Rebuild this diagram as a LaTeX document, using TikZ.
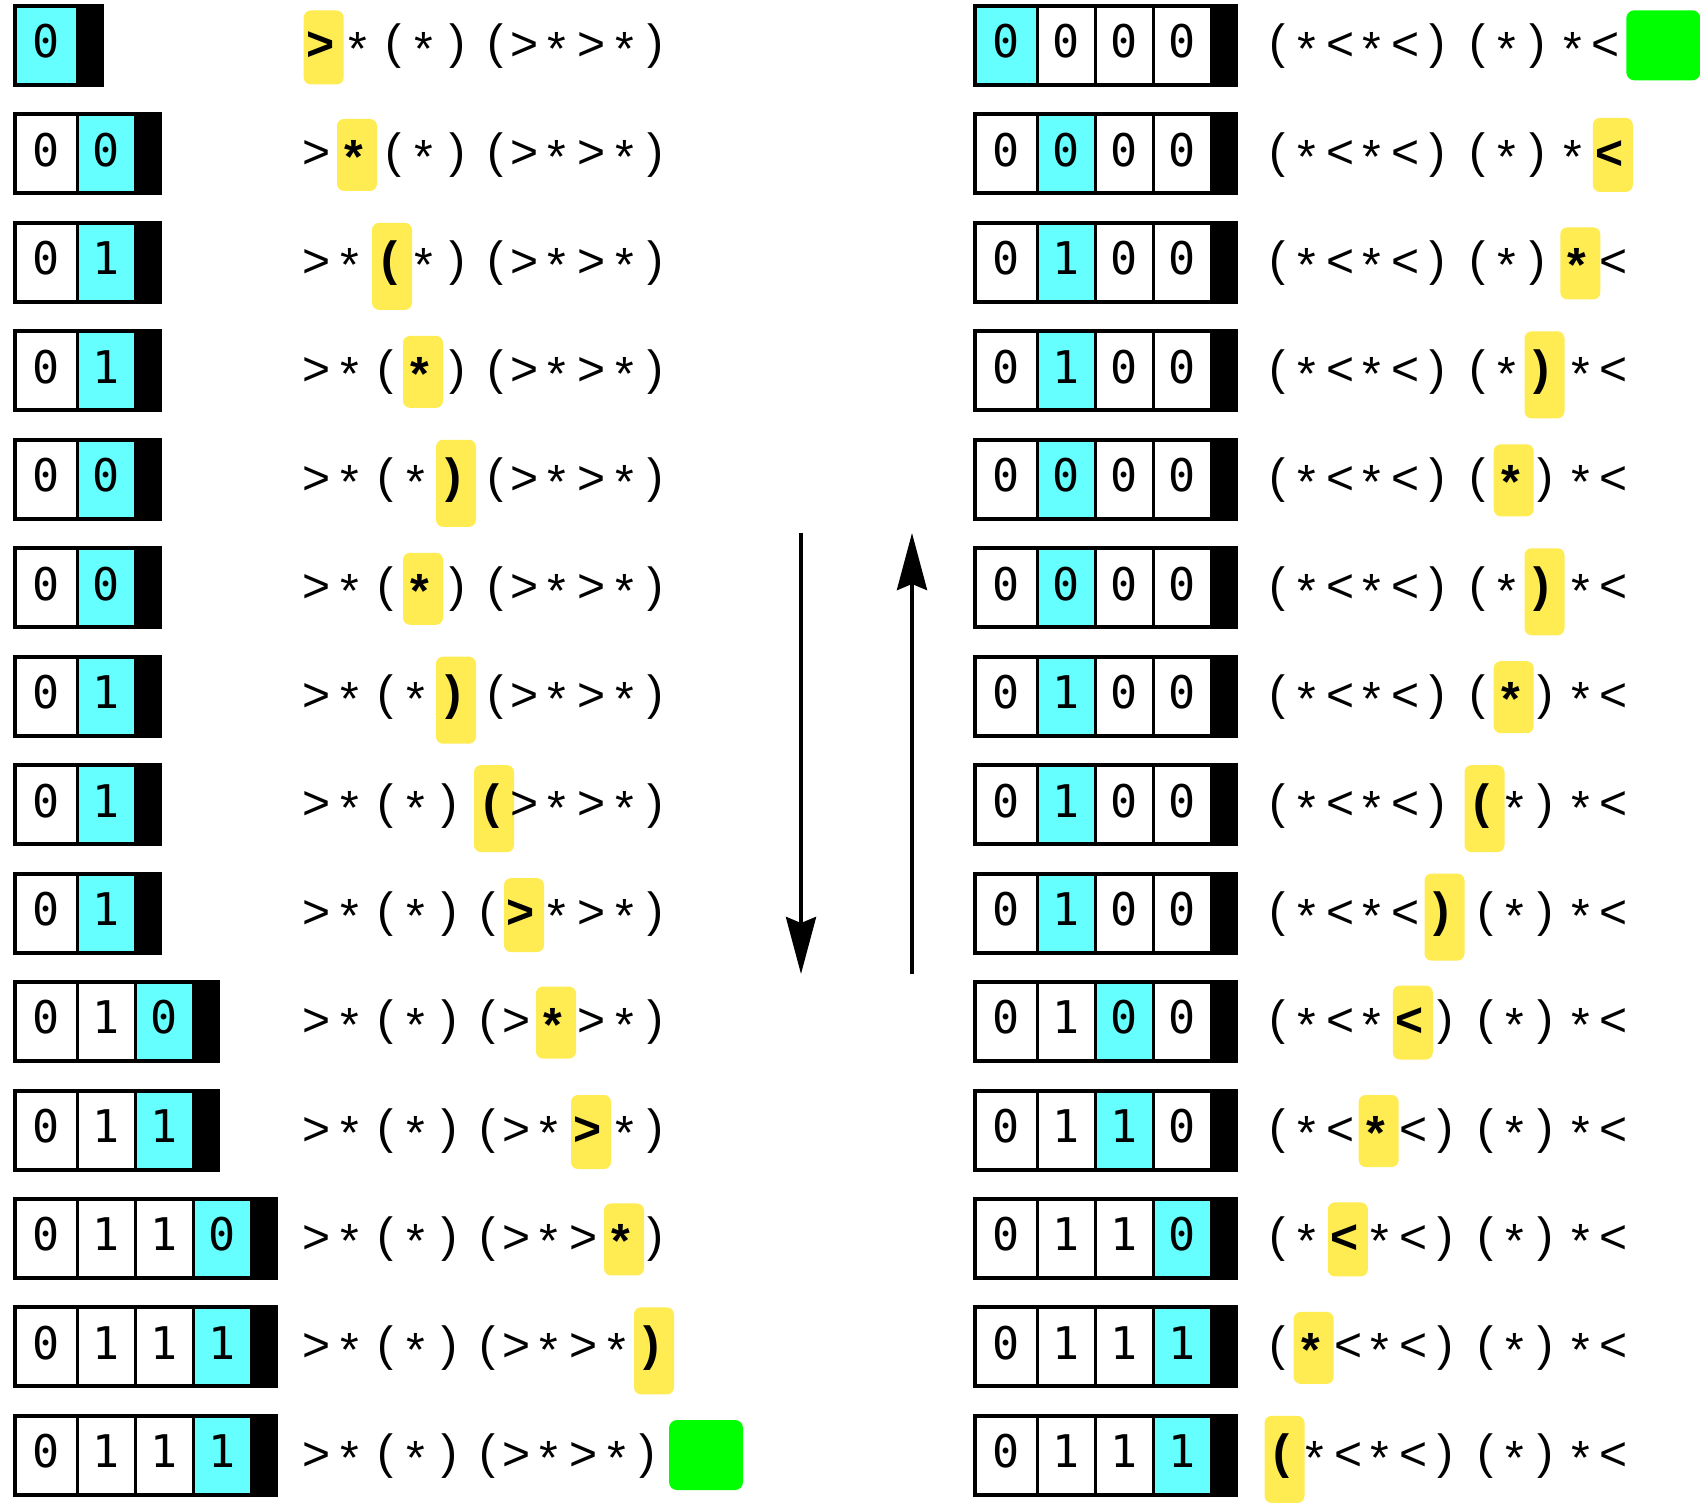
\documentclass[tikz,border=0pt]{standalone}
\usepackage{fontspec}
\setmainfont{Liberation Sans}
\newfontfamily\digitfont{DejaVu Sans Mono}
\usetikzlibrary{arrows.meta}
\definecolor{tapecur}{RGB}{102,255,255}
\definecolor{hlyellow}{RGB}{255,235,82}
\definecolor{goalgreen}{RGB}{0,255,0}
\tikzset{
  digit/.style={inner sep=0pt, anchor=center, font=\digitfont\fontsize{45}{50}\selectfont},
  sym/.style={inner sep=0pt, anchor=center, font=\fontsize{48}{56}\selectfont},
  symbold/.style={inner sep=0pt, anchor=center, font=\bfseries\fontsize{48}{56}\selectfont},
  hlbox/.style={fill=hlyellow, rounded corners=7pt, draw=none, inner sep=0pt, minimum width=40pt},
  goal/.style={fill=goalgreen, rounded corners=8pt, minimum width=74pt, minimum height=70pt, inner sep=0pt},
  arr/.style={line width=4pt, -{Stealth[length=57pt,width=30pt,inset=6pt]}},
}
\newcommand\syG{>}
\newcommand\syL{<}
\newcommand\syA{*}
\newcommand\syO{(}
\newcommand\syC{)}
% highlight heights, highlight offsets, glyph offsets
\def\hG{74}\def\hL{74}\def\hA{72}\def\hO{87}\def\hC{87}
\def\oG{2}\def\oL{1}\def\oA{1}\def\oO{4}\def\oC{4}
\def\vG{1}\def\vL{1}\def\vA{3}\def\vO{1}\def\vC{1}
\def\LS{G,A,O,A,C,O,G,A,G,A,C}
\def\RS{O,A,L,A,L,C,O,A,C,A,L}
\def\LP{{316.7,350,385,416,449,487,517,549,584,617,647}}
\def\RP{{1277.5,1306.7,1340.8,1371.7,1405.8,1437.5,1477.5,1506.7,1537.5,1573.3,1605.8}}
% #1 name, #2 left x, #3 row, #4 cells, #5 digits, #6 cursor cell
\newcommand{\tapebox}[6]{%
  \pgfmathsetmacro{\tpT}{4+108.45*#3}
  \pgfmathsetmacro{\tpB}{\tpT+83}
  \pgfmathsetmacro{\tpR}{#2+64.5+58*(#4-1)+26.5}
  \fill[black] (#2,\tpT) rectangle (\tpR,\tpB);
  \foreach \d [count=\k] in {#5}{
    \pgfmathsetmacro{\xa}{ifthenelse(\k==1,#2+4,#2+64.5+58*(\k-2)+1.5)}
    \pgfmathsetmacro{\xb}{#2+64.5+58*(\k-1)-1.5}
    \pgfmathsetmacro{\xc}{(\xa+\xb)/2}
    \ifnum\k=#6\relax\def\cc{tapecur}\else\def\cc{white}\fi
    \fill[\cc] (\xa,\tpT+4) rectangle (\xb,\tpB-4);
    \node[digit] (#1-\k) at (\xc,\tpT+37.5) {\d};
  }
}
% #1 name, #2 chars, #3 positions, #4 row, #5 highlighted index
\newcommand{\symrow}[5]{%
  \pgfmathsetmacro{\tpC}{45.5+108.45*#4}
  \foreach \c [count=\k from 0] in #2{
    \pgfmathsetmacro{\px}{#3[\k]}
    \pgfmathsetmacro{\gy}{\tpC+\csname v\c\endcsname}
    \ifnum\k<#5\relax
      \node[sym] (#1-\k) at (\px,\gy) {\csname sy\c\endcsname};
    \else\ifnum\k=#5\relax
      \node[hlbox, minimum height=\csname h\c\endcsname pt] (#1-hl) at (\px+7,\tpC+\csname o\c\endcsname) {};
      \node[symbold] (#1-\k) at (\px+4,\gy) {\csname sy\c\endcsname};
    \else
      \pgfmathsetmacro{\sh}{ifthenelse(#5<0,0,8)}
      \node[sym] (#1-\k) at (\px+\sh,\gy) {\csname sy\c\endcsname};
    \fi\fi
  }
}
\begin{document}
\begin{tikzpicture}[x=1pt,y=-1pt]
\useasboundingbox (0,0) rectangle (1700,1509);
% left column
\tapebox{lt1}{13}{0}{1}{0}{1}         \symrow{ls1}{\LS}{\LP}{0}{0}
\tapebox{lt2}{13}{1}{2}{0,0}{2}       \symrow{ls2}{\LS}{\LP}{1}{1}
\tapebox{lt3}{13}{2}{2}{0,1}{2}       \symrow{ls3}{\LS}{\LP}{2}{2}
\tapebox{lt4}{13}{3}{2}{0,1}{2}       \symrow{ls4}{\LS}{\LP}{3}{3}
\tapebox{lt5}{13}{4}{2}{0,0}{2}       \symrow{ls5}{\LS}{\LP}{4}{4}
\tapebox{lt6}{13}{5}{2}{0,0}{2}       \symrow{ls6}{\LS}{\LP}{5}{3}
\tapebox{lt7}{13}{6}{2}{0,1}{2}       \symrow{ls7}{\LS}{\LP}{6}{4}
\tapebox{lt8}{13}{7}{2}{0,1}{2}       \symrow{ls8}{\LS}{\LP}{7}{5}
\tapebox{lt9}{13}{8}{2}{0,1}{2}       \symrow{ls9}{\LS}{\LP}{8}{6}
\tapebox{lt10}{13}{9}{3}{0,1,0}{3}    \symrow{ls10}{\LS}{\LP}{9}{7}
\tapebox{lt11}{13}{10}{3}{0,1,1}{3}   \symrow{ls11}{\LS}{\LP}{10}{8}
\tapebox{lt12}{13}{11}{4}{0,1,1,0}{4} \symrow{ls12}{\LS}{\LP}{11}{9}
\tapebox{lt13}{13}{12}{4}{0,1,1,1}{4} \symrow{ls13}{\LS}{\LP}{12}{10}
\tapebox{lt14}{13}{13}{4}{0,1,1,1}{4} \symrow{ls14}{\LS}{\LP}{13}{-1}
\node[goal] (lgoal) at (706,1455) {};
% right column
\tapebox{rt1}{972.5}{0}{4}{0,0,0,0}{1}   \symrow{rs1}{\RS}{\RP}{0}{-1}
\node[goal] (rgoal) at (1663.3,45.3) {};
\tapebox{rt2}{972.5}{1}{4}{0,0,0,0}{2}   \symrow{rs2}{\RS}{\RP}{1}{10}
\tapebox{rt3}{972.5}{2}{4}{0,1,0,0}{2}   \symrow{rs3}{\RS}{\RP}{2}{9}
\tapebox{rt4}{972.5}{3}{4}{0,1,0,0}{2}   \symrow{rs4}{\RS}{\RP}{3}{8}
\tapebox{rt5}{972.5}{4}{4}{0,0,0,0}{2}   \symrow{rs5}{\RS}{\RP}{4}{7}
\tapebox{rt6}{972.5}{5}{4}{0,0,0,0}{2}   \symrow{rs6}{\RS}{\RP}{5}{8}
\tapebox{rt7}{972.5}{6}{4}{0,1,0,0}{2}   \symrow{rs7}{\RS}{\RP}{6}{7}
\tapebox{rt8}{972.5}{7}{4}{0,1,0,0}{2}   \symrow{rs8}{\RS}{\RP}{7}{6}
\tapebox{rt9}{972.5}{8}{4}{0,1,0,0}{2}   \symrow{rs9}{\RS}{\RP}{8}{5}
\tapebox{rt10}{972.5}{9}{4}{0,1,0,0}{3}  \symrow{rs10}{\RS}{\RP}{9}{4}
\tapebox{rt11}{972.5}{10}{4}{0,1,1,0}{3} \symrow{rs11}{\RS}{\RP}{10}{3}
\tapebox{rt12}{972.5}{11}{4}{0,1,1,0}{4} \symrow{rs12}{\RS}{\RP}{11}{2}
\tapebox{rt13}{972.5}{12}{4}{0,1,1,1}{4} \symrow{rs13}{\RS}{\RP}{12}{1}
\tapebox{rt14}{972.5}{13}{4}{0,1,1,1}{4} \symrow{rs14}{\RS}{\RP}{13}{0}
% arrows
\coordinate (dtop) at (801,533);
\coordinate (dbot) at (801,974);
\coordinate (ubot) at (912,974);
\coordinate (utop) at (912,533);
\draw[arr] (dtop) -- (dbot);
\draw[arr] (ubot) -- (utop);
\end{tikzpicture}
\end{document}
